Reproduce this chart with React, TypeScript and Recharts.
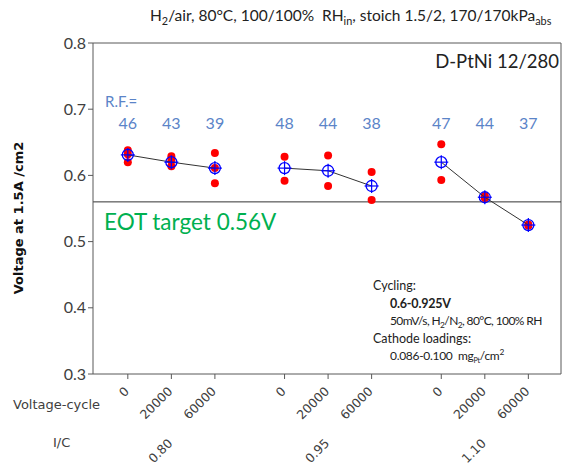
import React from 'react';
import { ScatterChart, Scatter, XAxis, YAxis, ReferenceLine } from 'recharts';

// cycle counts at each I/C ratio
const cycles = ['0', '20000', '60000'];
const icRatios = ['0.80', '0.95', '1.10'];
// x position of each (I/C, cycle) slot on the axis
const xPos = [1, 2, 3, 4.6, 5.6, 6.6, 8.2, 9.2, 10.2];
const X_MIN = 0.2;
const X_MAX = 10.95;

// average voltage per slot (blue circles)
const meanV = [0.631, 0.620, 0.611, 0.611, 0.607, 0.584, 0.620, 0.567, 0.525];
// individual cells per slot (red dots)
const cellV = [
    [0.638, 0.632, 0.620],
    [0.629, 0.622, 0.614],
    [0.634, 0.611, 0.588],
    [0.628, 0.592],
    [0.630, 0.584],
    [0.605, 0.563],
    [0.647, 0.593],
    [0.569, 0.566],
    [0.526, 0.524],
];
// roughness factor per slot
const rfValues = [46, 43, 39, 48, 44, 38, 47, 44, 37];
const RF_ROW = 0.678;

const yTicks = [0.3, 0.4, 0.5, 0.6, 0.7, 0.8];
const EOT = 0.56;

const BLUE_TXT = '#5B84C8';
const AXIS = '#595959';

const cellPoints = cellV.flatMap((vals, i) => vals.map(v => ({ x: xPos[i], y: v })));
const meanGroups = icRatios.map((_, g) =>
    cycles.map((_, c) => ({ x: xPos[g * 3 + c], y: meanV[g * 3 + c] }))
);
const rfPoints = rfValues.map((rf, i) => ({ x: xPos[i], y: RF_ROW, rf }));

const MeanMarker = (props: any) => {
    const { cx, cy } = props;
    if (cx == null || cy == null) return null;
    return (
        <g>
            <circle cx={cx} cy={cy} r={5.5} fill="none" stroke="#0000FF" strokeWidth={1.3} />
            <line x1={cx - 7} y1={cy} x2={cx + 7} y2={cy} stroke="#0000FF" strokeWidth={1.2} />
            <line x1={cx} y1={cy - 7} x2={cx} y2={cy + 7} stroke="#0000FF" strokeWidth={1.2} />
        </g>
    );
};

const RedDot = (props: any) => {
    const { cx, cy } = props;
    if (cx == null || cy == null) return null;
    return <circle cx={cx} cy={cy} r={4} fill="#FF0000" />;
};

const RfLabel = (props: any) => {
    const { cx, cy, payload } = props;
    if (cx == null || cy == null) return null;
    return (
        <text x={cx} y={cy} dy={5} textAnchor="middle" fontFamily="Lato" fontSize={16} fill={BLUE_TXT}>
            {payload.rf}
        </text>
    );
};

const CycleTick = (props: any) => {
    const { x, y, index } = props;
    const tx = x + 2;
    const ty = y + 11;
    const gy = y + 63;
    return (
        <g>
            <text x={tx} y={ty} transform={`rotate(-45, ${tx}, ${ty})`} textAnchor="end"
                fontFamily="DejaVu Sans" fontSize={12.5} fill="#404040">
                {cycles[index % 3]}
            </text>
            {index % 3 === 1 && (
                <text x={tx} y={gy} transform={`rotate(-45, ${tx}, ${gy})`} textAnchor="end"
                    fontFamily="DejaVu Sans" fontSize={12.5} fill="#404040">
                    {icRatios[Math.floor(index / 3)]}
                </text>
            )}
        </g>
    );
};

const abs = (left: number, top: number, extra: React.CSSProperties = {}): React.CSSProperties => ({
    position: 'absolute', left, top, whiteSpace: 'nowrap', lineHeight: 1, ...extra
});

const sub: React.CSSProperties = { fontSize: '0.7em', lineHeight: 0 };

export default function App() {
    return (
        <div style={{ position: 'absolute', left: 0, top: 0, width: 563, height: 466, background: '#fff' }}>
            <ScatterChart width={563} height={466} margin={{ top: 43, right: 2, left: 43, bottom: 0 }}>
                <XAxis
                    type="number"
                    dataKey="x"
                    domain={[X_MIN, X_MAX]}
                    ticks={xPos}
                    interval={0}
                    allowDataOverflow
                    height={92}
                    tickSize={5}
                    stroke={AXIS}
                    tick={<CycleTick />}
                />
                <YAxis
                    type="number"
                    dataKey="y"
                    domain={[0.3, 0.8]}
                    ticks={yTicks}
                    allowDataOverflow
                    width={50}
                    tickSize={5}
                    stroke={AXIS}
                    tick={{ fontFamily: 'Lato', fontSize: 16, fill: '#404040' }}
                    tickFormatter={(v: number) => v.toFixed(1)}
                />
                <ReferenceLine y={0.8} stroke={AXIS} ifOverflow="visible" />
                <ReferenceLine x={X_MAX} stroke={AXIS} ifOverflow="visible" />
                <ReferenceLine y={EOT} stroke="#333333" strokeWidth={1} />
                <Scatter data={cellPoints} shape={<RedDot />} isAnimationActive={false} />
                {meanGroups.map((g, i) => (
                    <Scatter
                        key={i}
                        data={g}
                        line={{ stroke: '#333333', strokeWidth: 1 }}
                        lineType="joint"
                        shape={<MeanMarker />}
                        isAnimationActive={false}
                    />
                ))}
                <Scatter data={rfPoints} shape={<RfLabel />} isAnimationActive={false} />
            </ScatterChart>

            <div style={abs(150, 8, { fontFamily: 'Lato', fontSize: 15.5, color: '#222' })}>
                H<sub style={sub}>2</sub>/air, 80°C, 100/100%&nbsp; RH<sub style={sub}>in</sub>, stoich 1.5/2, 170/170kPa<sub style={sub}>abs</sub>
            </div>
            <div style={abs(0, 52, { width: 559, textAlign: 'right', fontFamily: 'Lato', fontSize: 18.5, color: '#222' })}>
                D-PtNi 12/280
            </div>
            <div style={abs(105, 94, { fontFamily: 'Lato', fontSize: 15, color: BLUE_TXT })}>R.F.=</div>
            <div style={abs(104, 211, { fontFamily: 'Lato', fontSize: 22.5, color: '#00B050' })}>EOT target 0.56V</div>

            <div style={{ position: 'absolute', left: 373, top: 277, fontFamily: 'Lato', fontSize: 12.5, color: '#222', lineHeight: '17.5px', whiteSpace: 'nowrap' }}>
                <div>Cycling:</div>
                <div style={{ paddingLeft: 17, fontWeight: 700, letterSpacing: -0.2 }}>0.6-0.925V</div>
                <div style={{ paddingLeft: 17, letterSpacing: -0.6, fontSize: 12 }}>
                    50mV/s, H<sub style={sub}>2</sub>/N<sub style={sub}>2</sub>, 80°C, 100% RH
                </div>
                <div>Cathode loadings:</div>
                <div style={{ paddingLeft: 17, letterSpacing: -0.3, fontSize: 12 }}>
                    0.086-0.100&nbsp; mg<sub style={{ fontSize: '0.6em', lineHeight: 0 }}>Pt</sub>/cm<sup style={sub}>2</sup>
                </div>
            </div>

            <div style={abs(13, 398, { fontFamily: 'DejaVu Sans', fontSize: 13, color: '#404040' })}>Voltage-cycle</div>
            <div style={abs(53, 436, { fontFamily: 'DejaVu Sans', fontSize: 13, color: '#404040' })}>I/C</div>

            <div style={{
                position: 'absolute', left: 18, top: 218, transform: 'translate(-50%, -50%) rotate(-90deg)',
                fontFamily: 'DejaVu Sans', fontWeight: 700, fontSize: 13, color: '#111', whiteSpace: 'nowrap', lineHeight: 1
            }}>
                Voltage at 1.5A /cm2
            </div>
        </div>
    );
}
